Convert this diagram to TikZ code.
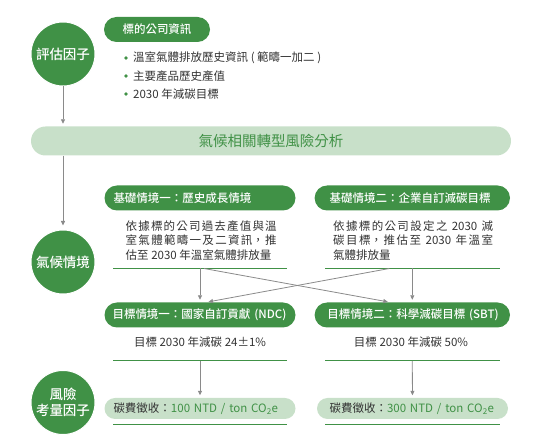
\documentclass[tikz,border=0pt]{standalone}
\usepackage{fontspec}
\setmainfont{Noto Sans CJK TC}
\newfontfamily\medfont{Noto Sans CJK TC Medium}
\XeTeXlinebreaklocale "zh"
\XeTeXlinebreakskip=0pt plus 1pt
\usepackage{xcolor}
\usetikzlibrary{arrows.meta}
\definecolor{dkgreen}{RGB}{64,145,70}
\definecolor{ltgreen}{RGB}{200,224,201}
\definecolor{lngray}{RGB}{138,138,138}
\definecolor{txtgray}{RGB}{51,51,51}

\begin{document}
\begin{tikzpicture}[x=1pt,y=1pt,yscale=-1,xscale=1,
  fact/.style={circle,fill=dkgreen,draw=white,line width=1pt,minimum size=64pt,inner sep=0pt,text=white,align=center,font=\medfont\fontsize{13.5}{16}\selectfont},
  pill/.style={rectangle,rounded corners=12.5pt,fill=dkgreen,text=white,minimum height=25pt,inner ysep=0pt,align=left,font=\medfont\fontsize{11.5}{14}\selectfont},
  lpill/.style={rectangle,rounded corners=10.5pt,fill=ltgreen,text=dkgreen,minimum height=21pt,inner ysep=0pt,align=left,font=\fontsize{11.5}{14}\selectfont},
  band/.style={rectangle,rounded corners=14.5pt,fill=ltgreen,text=dkgreen,minimum width=480pt,minimum height=29pt,font=\fontsize{14.5}{17}\selectfont},
  body/.style={text=txtgray,inner sep=0pt,font=\fontsize{11.5}{14.4}\selectfont},
  dot/.style={circle,fill=dkgreen,minimum size=3.6pt,inner sep=0pt},
  conn/.style={draw=lngray,line width=0.8pt,shorten >=2.5pt,-{Triangle[length=4.5pt,width=4pt]}},
  rulegr/.style={draw=dkgreen,line width=1pt}]
\useasboundingbox (0,0) rectangle (542,446);

%Circle: 評估因子
\node[fact] (eval) at (63,54) {評估因子};
%Pill: company info
\node[pill,minimum width=106pt,align=center] (info) at (157,29.5) {標的公司資訊};
%Bullets
\node[dot] (d1) at (126,58) {};
\node[dot] (d2) at (126,76) {};
\node[dot] (d3) at (126,94) {};
\node[body,anchor=west] (i1) at (133,58) {溫室氣體排放歷史資訊 ( 範疇一加二 )};
\node[body,anchor=west] (i2) at (133,76) {主要產品歷史產值};
\node[body,anchor=west] (i3) at (133,94) {2030 年減碳目標};

%Band
\node[band] (band) at (271,141) {氣候相關轉型風險分析};

%Circle: 氣候情境
\node[fact] (scen) at (63,262) {氣候情境};
%Base scenarios
\node[pill,text width=173pt,inner xsep=9pt] (baseA) at (200,198) {\mbox{基礎情境一：歷史成長情境}};
\node[pill,text width=165.4pt,inner xsep=15pt] (baseB) at (412.3,198) {\mbox{基礎情境二：企業自訂減碳目標}};
% Text Node
\node[body,text width=151pt,align=justify,anchor=north west] (descA) at (125.5,220.5) {依據標的公司過去產值與溫\linebreak 室氣體範疇一及二資訊，推\linebreak 估至 2030 年溫室氣體排放量};
% Text Node
\node[body,text width=160pt,align=justify,anchor=north west] (descB) at (333,220.5) {依據標的公司設定之 2030 減\linebreak 碳目標，推估至 2030 年溫室\linebreak 氣體排放量};
%Rules
\coordinate (rA1) at (113.4,268.5);
\coordinate (rA2) at (287,268.5);
\coordinate (rB1) at (325,268.5);
\coordinate (rB2) at (499.5,268.5);
\draw[rulegr] (rA1) -- (rA2);
\draw[rulegr] (rB1) -- (rB2);

%Goal scenarios
\node[pill,text width=175pt,inner xsep=8pt] (goalA) at (200,315) {\mbox{目標情境一：國家自訂貢獻 (NDC)}};
\node[pill,text width=170pt,inner xsep=12.7pt] (goalB) at (412.3,315) {\mbox{目標情境二：科學減碳目標 (SBT)}};
\node[body] (gtA) at (200,342) {目標 2030 年減碳 24±1\%};
\node[body] (gtB) at (411,342) {目標 2030 年減碳 50\%};
\coordinate (sA1) at (113.4,361);
\coordinate (sA2) at (287,361);
\coordinate (sB1) at (325,361);
\coordinate (sB2) at (499.5,361);
\draw[rulegr] (sA1) -- (sA2);
\draw[rulegr] (sB1) -- (sB2);

%Circle: 風險考量因子
\node[fact] (risk) at (63,402.5) {風險\\考量因子};
%Carbon fee
\node[lpill,text width=173pt,inner xsep=9pt] (feeA) at (200,408.5) {\mbox{{\color{txtgray}碳費徵收：}100 NTD / ton CO\textsubscript{2}e}};
\node[lpill,text width=166pt,inner xsep=12.5pt] (feeB) at (412.5,408.5) {\mbox{{\color{txtgray}碳費徵收：}300 NTD / ton CO\textsubscript{2}e}};
\coordinate (fA1) at (113.4,424.5);
\coordinate (fA2) at (287,424.5);
\coordinate (fB1) at (325,424.5);
\coordinate (fB2) at (499.5,424.5);
\draw[rulegr] (fA1) -- (fA2);
\draw[rulegr] (fB1) -- (fB2);

%Connectors
\draw[conn] (eval) -- (eval |- band.north);
\draw[conn,shorten >=4pt] (band.south -| scen) -- (scen);
\draw[conn] (baseA |- rA1) -- (goalA);
\draw[conn] (baseB |- rB1) -- (goalB);
\draw[conn] ([xshift=4pt]baseA |- rA1) -- ([xshift=-22pt]goalB.north);
\draw[conn] ([xshift=-23pt]baseB |- rB1) -- ([xshift=6pt]goalA.north);
\draw[conn] (goalA |- sA1) -- (feeA);
\draw[conn] (goalB |- sB1) -- (feeB);

\end{tikzpicture}
\end{document}
